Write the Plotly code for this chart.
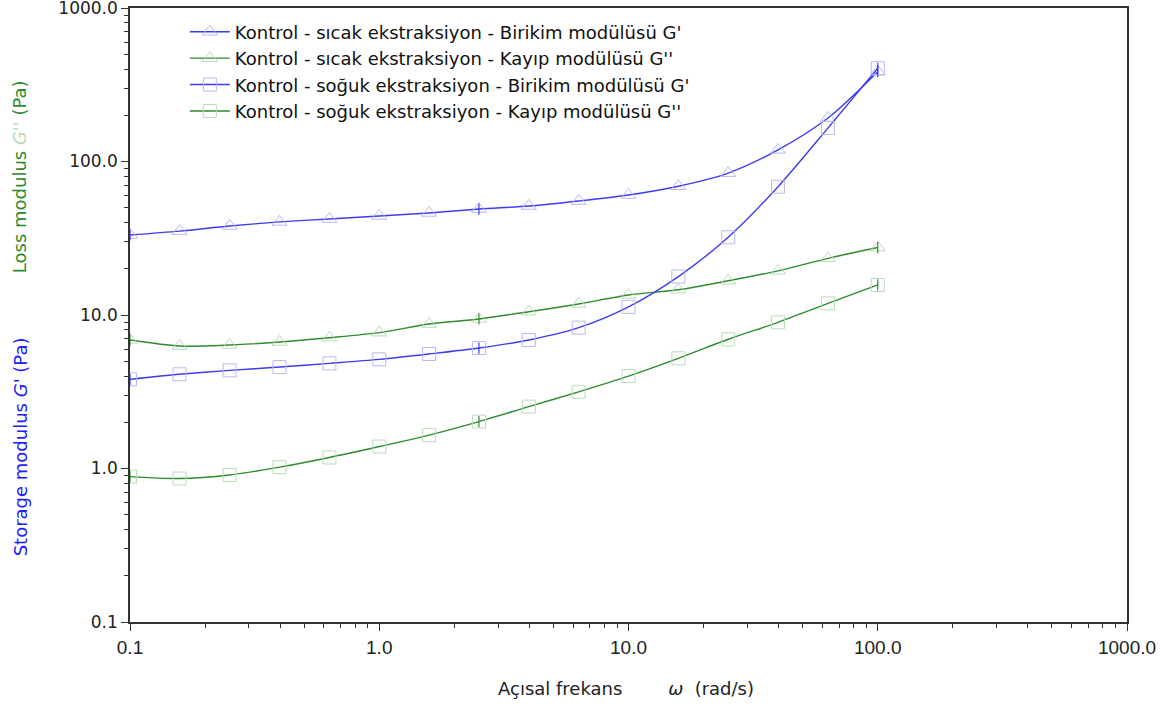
import plotly.graph_objects as go

freq = [0.1, 0.158, 0.251, 0.398, 0.631, 1.0, 1.585, 2.512, 3.981, 6.31,
        10.0, 15.85, 25.12, 39.81, 63.1, 100.0]

hot_G1 = [33.2, 35.2, 38.0, 40.4, 42.2, 44.2, 46.2, 49.0, 51.3, 55.3,
          60.5, 69.0, 84.0, 119.0, 192.0, 385.0]
hot_G2 = [6.87, 6.28, 6.38, 6.67, 7.11, 7.67, 8.73, 9.42, 10.5, 11.8,
          13.5, 14.6, 16.7, 19.4, 23.4, 27.5]
cold_G1 = [3.81, 4.11, 4.36, 4.58, 4.84, 5.14, 5.57, 6.09, 6.87, 8.27,
           11.3, 17.8, 32.1, 68.5, 165.0, 405.0]
cold_G2 = [0.885, 0.86, 0.908, 1.02, 1.18, 1.39, 1.65, 2.02, 2.53, 3.16,
           4.0, 5.22, 6.95, 8.96, 11.9, 15.7]

names = [
    "Kontrol - sıcak ekstraksiyon - Birikim modülüsü G'",
    "Kontrol - sıcak ekstraksiyon - Kayıp modülüsü G''",
    "Kontrol - soğuk ekstraksiyon - Birikim modülüsü G'",
    "Kontrol - soğuk ekstraksiyon - Kayıp modülüsü G''",
]

major_vals = [0.1, 1, 10, 100, 1000]
major_text = ["0.1", "1.0", "10.0", "100.0", "1000.0"]
minor_vals = [m * d for d in [0.1, 1, 10, 100] for m in range(2, 10)]

tick_idx = [0, 7, 15]

BLUE = "#3b3bf0"
GREEN = "#2e8b2e"
PALE_BLUE = "#b8b8f4"
PALE_GREEN = "#b8dcb8"

series = [
    (hot_G1, BLUE, PALE_BLUE, "triangle-up-open", 13),
    (hot_G2, GREEN, PALE_GREEN, "triangle-up-open", 13),
    (cold_G1, BLUE, PALE_BLUE, "square-open", 13),
    (cold_G2, GREEN, PALE_GREEN, "square-open", 13),
]

fig = go.Figure()
for (vals, lc, mc, sym, sz), nm in zip(series, names):
    fig.add_trace(go.Scatter(
        x=freq, y=vals, name=nm, mode="lines+markers",
        line=dict(color=lc, width=1.4, shape="spline", smoothing=0.8),
        marker=dict(symbol=sym, size=sz, color=mc, line=dict(color=mc, width=1)),
    ))
for (vals, lc, mc, sym, sz) in series:
    fig.add_trace(go.Scatter(
        x=[freq[i] for i in tick_idx], y=[vals[i] for i in tick_idx],
        mode="markers", showlegend=False, hoverinfo="skip",
        marker=dict(symbol="line-ns", size=8, line=dict(color=lc, width=1.2)),
    ))

axis_common = dict(
    type="log", showgrid=False, zeroline=False, showline=True, automargin=False,
    linecolor="#333333", linewidth=1.5, mirror=True,
    ticks="outside", ticklen=7, tickwidth=1.2, tickcolor="#333333",
    tickvals=major_vals, ticktext=major_text, ticklabeloverflow="allow",
    minor=dict(tickvals=minor_vals, ticks="outside", ticklen=4,
               tickcolor="#333333", showgrid=False),
)

fig.update_xaxes(**axis_common, range=[-1, 3],
                 tickfont=dict(family="Liberation Sans", size=19, color="#222222"))
fig.update_yaxes(**axis_common, range=[-1, 3],
                 tickfont=dict(family="DejaVu Sans", size=17, color="#222222"))

fig.add_annotation(
    xref="paper", yref="paper", x=0.4975, y=-0.1075, showarrow=False,
    text="Açısal frekans&nbsp;&nbsp;&nbsp;&nbsp;&nbsp;&nbsp;&nbsp;&nbsp;<i>ω</i>&nbsp;&nbsp;(rad/s)",
    font=dict(family="DejaVu Sans", size=18, color="#222222"),
    xanchor="center", yanchor="middle",
)
fig.add_annotation(
    xref="paper", yref="paper", x=-0.11, y=0.725, showarrow=False, textangle=-90,
    text="Loss modulus <span style='color:#b8dcb8'><i>G''</i></span> (Pa)",
    font=dict(family="DejaVu Sans", size=18, color=GREEN),
    xanchor="center", yanchor="middle",
)
fig.add_annotation(
    xref="paper", yref="paper", x=-0.11, y=0.285, showarrow=False, textangle=-90,
    text="Storage modulus <i>G'</i> (Pa)",
    font=dict(family="DejaVu Sans", size=18, color="#2020ff"),
    xanchor="center", yanchor="middle",
)

fig.update_layout(
    width=1170, height=708,
    margin=dict(l=130, r=43, t=8, b=86),
    paper_bgcolor="white", plot_bgcolor="white",
    showlegend=True,
    legend=dict(
        x=0.055, y=0.991, xanchor="left", yanchor="top",
        bgcolor="rgba(0,0,0,0)", borderwidth=0,
        font=dict(family="DejaVu Sans", size=18, color="#111111"),
        tracegroupgap=0, itemwidth=40,
    ),
)

fig.write_html("out.html", config={"displayModeBar": False},
               post_script="document.body.style.margin='0';")
